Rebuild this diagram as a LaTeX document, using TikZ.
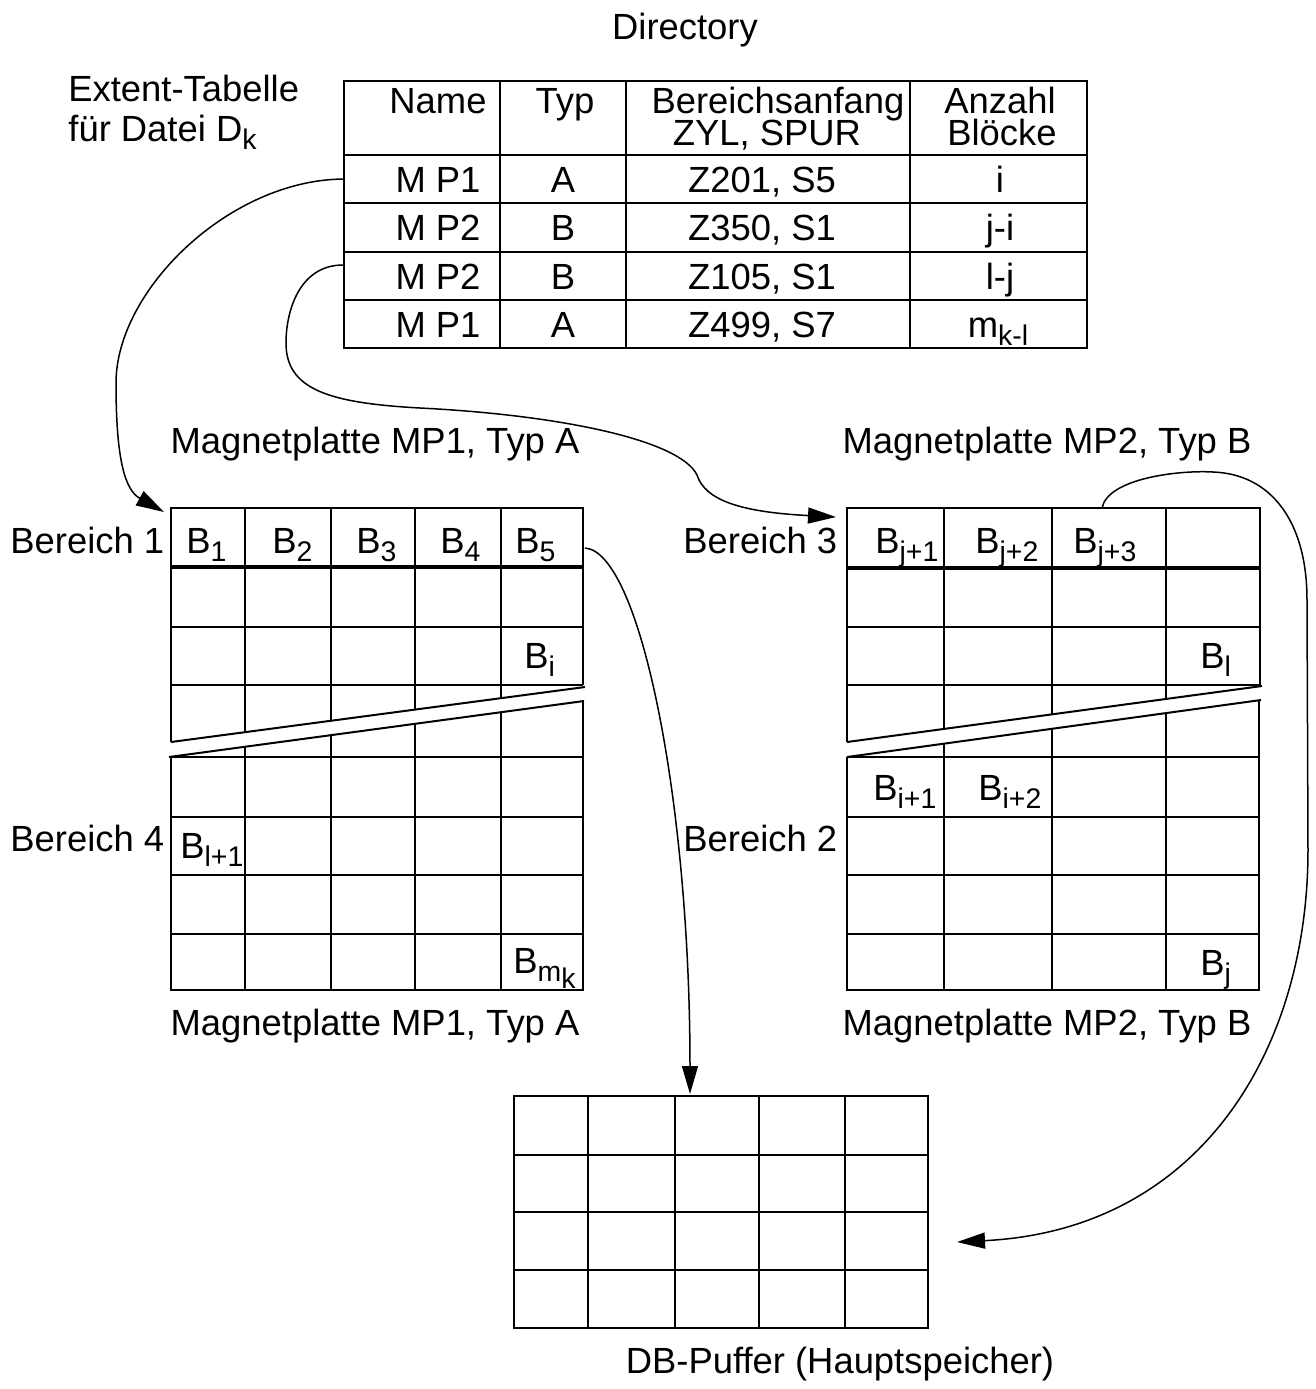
\documentclass[tikz,border=0pt]{standalone}
\usepackage{fontspec}
\setmainfont{Liberation Sans}
\usetikzlibrary{arrows.meta}
\newcommand\subs[1]{\raisebox{-0.24em}{\fontsize{14.2}{15}\selectfont #1}}
\tikzset{
  lbl/.style={inner sep=0pt, anchor=base, font=\fontsize{18.2}{20}\selectfont},
  lblw/.style={lbl, anchor=base west},
  gridline/.style={line width=1pt},
  thickline/.style={line width=1.6pt},
  conn/.style={line width=0.75pt, -{Triangle[length=14pt,width=8pt]}}
}
\begin{document}
\begin{tikzpicture}[x=0.5pt,y=-0.5pt]
\useasboundingbox (0,0) rectangle (1316,1389);

% ---------- titles ----------
\node[lbl] (dir) at (685,39) {Directory};
\node[lblw] (ext1) at (68,101) {Extent-Tabelle};
\node[lblw] (ext2) at (68,141) {für Datei D\subs{k}};

% ---------- extent table ----------
\draw[gridline] (344,81) rectangle (1087,348);
\foreach \y in {155,203,252,300} \draw[gridline] (344,\y) -- (1087,\y);
\foreach \x in {500,626,910} \draw[gridline] (\x,81) -- (\x,348);

\node[lbl] (hname) at (438,113) {Name};
\node[lbl] (htyp) at (565,113) {Typ};
\node[lbl] (hber1) at (778,113) {Bereichsanfang};
\node[lbl] (hber2) at (767,145) {ZYL, SPUR};
\node[lbl] (hanz1) at (1000,113) {Anzahl};
\node[lbl] (hanz2) at (1002,145) {Blöcke};

\node[lbl] (n1) at (438,192) {M P1};
\node[lbl] (y1) at (563,192) {A};
\node[lbl] (z1) at (762,192) {Z201, S5};
\node[lbl] (c1) at (1000,192) {i};

\node[lbl] (n2) at (438,240) {M P2};
\node[lbl] (y2) at (563,240) {B};
\node[lbl] (z2) at (762,240) {Z350, S1};
\node[lbl] (c2) at (1000,240) {j-i};

\node[lbl] (n3) at (438,289) {M P2};
\node[lbl] (y3) at (563,289) {B};
\node[lbl] (z3) at (762,289) {Z105, S1};
\node[lbl] (c3) at (1000,289) {l-j};

\node[lbl] (n4) at (438,337) {M P1};
\node[lbl] (y4) at (563,337) {A};
\node[lbl] (z4) at (762,337) {Z499, S7};
\node[lbl] (c4) at (998,337) {m\subs{k-l}};

% ---------- left disk MP1 ----------
\node[lbl] (mp1top) at (375,453) {Magnetplatte MP1, Typ A};
\node[lbl] (mp1bot) at (375,1035) {Magnetplatte MP1, Typ A};
\node[lblw] (ber1) at (10,553) {Bereich 1};
\node[lblw] (ber4) at (10,851) {Bereich 4};

% upper part
\draw[gridline] (171,742) -- (171,508) -- (583,508) -- (583,685);
\draw[thickline] (171,567) -- (583,567);
\draw[gridline] (171,627) -- (583,627);
\draw[gridline] (171,685) -- (583,685);
\draw[gridline] (171,742) -- (585,687);
\begin{scope}
  \clip (171,508) -- (583,508) -- (585,687) -- (171,742) -- cycle;
  \foreach \x in {245,331,415,501} \draw[gridline] (\x,508) -- (\x,760);
\end{scope}
% lower part
\draw[gridline] (169,757) -- (584,701);
\draw[gridline] (171,757) -- (171,990) -- (583,990) -- (583,701);
\foreach \y in {757,817,875,934} \draw[gridline] (171,\y) -- (583,\y);
\begin{scope}
  \clip (171,757) -- (583,701) -- (583,990) -- (171,990) -- cycle;
  \foreach \x in {245,331,415,501} \draw[gridline] (\x,690) -- (\x,990);
\end{scope}

\node[lblw] (b1) at (186,553) {B\subs{1}};
\node[lblw] (b2) at (272,553) {B\subs{2}};
\node[lblw] (b3) at (356,553) {B\subs{3}};
\node[lblw] (b4) at (440,553) {B\subs{4}};
\node[lblw] (b5) at (515,553) {B\subs{5}};
\node[lblw] (bi) at (524,668) {B\subs{i}};
\node[lblw] (bl1) at (180,858) {B\subs{l+1}};
\node[lblw] (bmk) at (513,973) {B\subs{m\subs{k}}};

% ---------- right disk MP2 ----------
\node[lbl] (mp2top) at (1047,453) {Magnetplatte MP2, Typ B};
\node[lbl] (mp2bot) at (1047,1035) {Magnetplatte MP2, Typ B};
\node[lblw] (ber3) at (683,553) {Bereich 3};
\node[lblw] (ber2) at (683,851) {Bereich 2};

\draw[gridline] (847,742) -- (847,508) -- (1260,508) -- (1260,685);
\draw[thickline] (847,568) -- (1260,568);
\draw[gridline] (847,627) -- (1260,627);
\draw[gridline] (847,685) -- (1260,685);
\draw[gridline] (847,742) -- (1262,686);
\begin{scope}
  \clip (847,508) -- (1260,508) -- (1262,686) -- (847,742) -- cycle;
  \foreach \x in {944,1052,1166} \draw[gridline] (\x,508) -- (\x,760);
\end{scope}
\draw[gridline] (847,757) -- (1261,700);
\draw[gridline] (847,757) -- (847,990) -- (1259,990) -- (1259,700);
\foreach \y in {757,817,875,934} \draw[gridline] (847,\y) -- (1260,\y);
\begin{scope}
  \clip (847,757) -- (1260,700) -- (1260,990) -- (847,990) -- cycle;
  \foreach \x in {944,1052,1166} \draw[gridline] (\x,690) -- (\x,990);
\end{scope}

\node[lblw] (bj1) at (875,553) {B\subs{j+1}};
\node[lblw] (bj2) at (975,553) {B\subs{j+2}};
\node[lblw] (bj3t) at (1073,553) {B\subs{j+3}};
\node[lblw] (bl) at (1200,668) {B\subs{l}};
\node[lblw] (bi1) at (873,800) {B\subs{i+1}};
\node[lblw] (bi2) at (978,800) {B\subs{i+2}};
\node[lblw] (bj) at (1200,975) {B\subs{j}};

% ---------- DB buffer ----------
\draw[gridline] (514,1096) rectangle (928,1328);
\foreach \y in {1155,1212,1270} \draw[gridline] (514,\y) -- (928,\y);
\foreach \x in {588,675,759,845} \draw[gridline] (\x,1096) -- (\x,1328);
\node[lbl] (dbp) at (840,1373) {DB-Puffer (Hauptspeicher)};

% ---------- connectors ----------
\coordinate (t1) at (345,179);
\coordinate (t3) at (343,265);
\coordinate (a1) at (164,512);
\coordinate (a3) at (836,517);
\coordinate (b5r) at (585,548);
\coordinate (buf) at (690,1094);
\coordinate (bj3) at (1102,508);
\coordinate (bufr) at (957,1242);

\draw[conn] (t1) .. controls (230,179) and (116,290) .. (116,383)
  .. controls (116,460) and (125,490) .. (a1);
\draw[conn] (t3) .. controls (300,265) and (286,310) .. (286,343)
  .. controls (286,390) and (330,403) .. (420,408)
  .. controls (560,415) and (680,440) .. (697,475)
  .. controls (705,500) and (740,512) .. (a3);
\draw[conn] (b5r) .. controls (640,552) and (690,800) .. (buf);
\draw[conn] (bj3) .. controls (1108,478) and (1180,470) .. (1213,472)
  .. controls (1270,474) and (1307,520) .. (1307,600)
  -- (1308,850)
  .. controls (1308,1050) and (1200,1230) .. (bufr);
\end{tikzpicture}
\end{document}
